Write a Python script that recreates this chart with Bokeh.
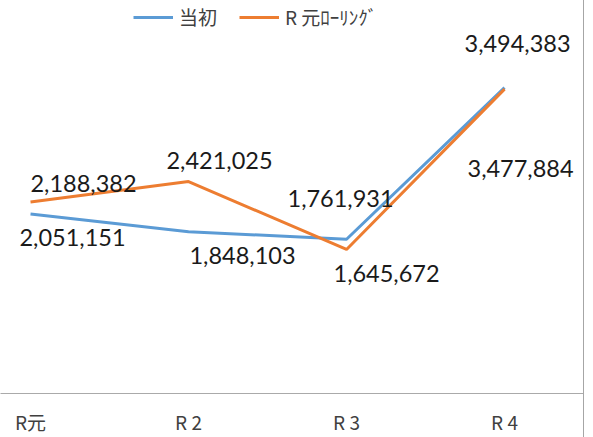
from bokeh.plotting import figure
from bokeh.models import Range1d, FixedTicker, Legend, LegendItem, ColumnDataSource
from bokeh.embed import file_html
from bokeh.resources import INLINE
from bokeh.core.properties import value

# ---- data ----
categories = ["R元", "R 2", "R 3", "R 4"]
tousho = [2051151, 1848103, 1761931, 3494383]
rolling = [2188382, 2421025, 1645672, 3477884]
series_names = ["当初", "R 元ﾛｰﾘﾝｸﾞ"]

# ---- styles ----
BLUE = "#5B9BD5"
ORANGE = "#ED7D31"
blue_dx = [42, 54, -6, 13]
blue_dy = [24, 24, -41, -44]
orange_dx = [53, 31, 40, 16]
orange_dy = [-18, -21, 24, 79]

x = list(range(len(categories)))

p = figure(width=584, height=437, output_backend="svg", toolbar_location=None,
           x_range=Range1d(-0.19, 3.506), y_range=Range1d(0, 4490000),
           y_axis_location=None, min_border_left=0, min_border_right=0,
           min_border_top=0, min_border_bottom=44)
p.styles = {"border-right": "1px solid #a6a6a6"}
p.outline_line_color = None
p.xgrid.visible = False
p.ygrid.visible = False

p.xaxis.ticker = FixedTicker(ticks=x)
p.xaxis.major_label_overrides = {i: c for i, c in enumerate(categories)}
p.xaxis.major_tick_line_color = None
p.xaxis.minor_tick_line_color = None
p.xaxis.axis_line_color = "#aaaaaa"
p.xaxis.axis_line_width = 1
p.xaxis.major_label_text_font = "Noto Sans CJK JP"
p.xaxis.major_label_text_font_size = "19px"
p.xaxis.major_label_text_color = "#404040"
p.xaxis.major_label_standoff = 8

src_b = ColumnDataSource(dict(x=x, y=tousho, t=[f"{v:,}" for v in tousho], dx=blue_dx, dy=blue_dy))
src_o = ColumnDataSource(dict(x=x, y=rolling, t=[f"{v:,}" for v in rolling], dx=orange_dx, dy=orange_dy))

lb = p.line("x", "y", source=src_b, line_color=BLUE, line_width=3)
lo = p.line("x", "y", source=src_o, line_color=ORANGE, line_width=3)

for src in (src_b, src_o):
    p.text("x", "y", text="t", source=src, x_offset="dx", y_offset="dy",
           text_align="center", text_baseline="middle",
           text_font=value("Lato"), text_font_size="23.5px", text_color="#1a1a1a")

legend = Legend(items=[LegendItem(label=series_names[0], renderers=[lb]),
                       LegendItem(label=series_names[1], renderers=[lo])],
                orientation="horizontal", location=(133, 363))
legend.glyph_width = 40
legend.glyph_height = 20
legend.label_height = 20
legend.label_standoff = 6
legend.spacing = 22
legend.padding = 0
legend.margin = 0
legend.border_line_color = None
legend.background_fill_alpha = 0
legend.label_text_font = "Noto Sans CJK JP"
legend.label_text_font_size = "19px"
legend.label_text_color = "#404040"
p.add_layout(legend, "center")

open("out.html", "w").write(file_html(p, INLINE))
